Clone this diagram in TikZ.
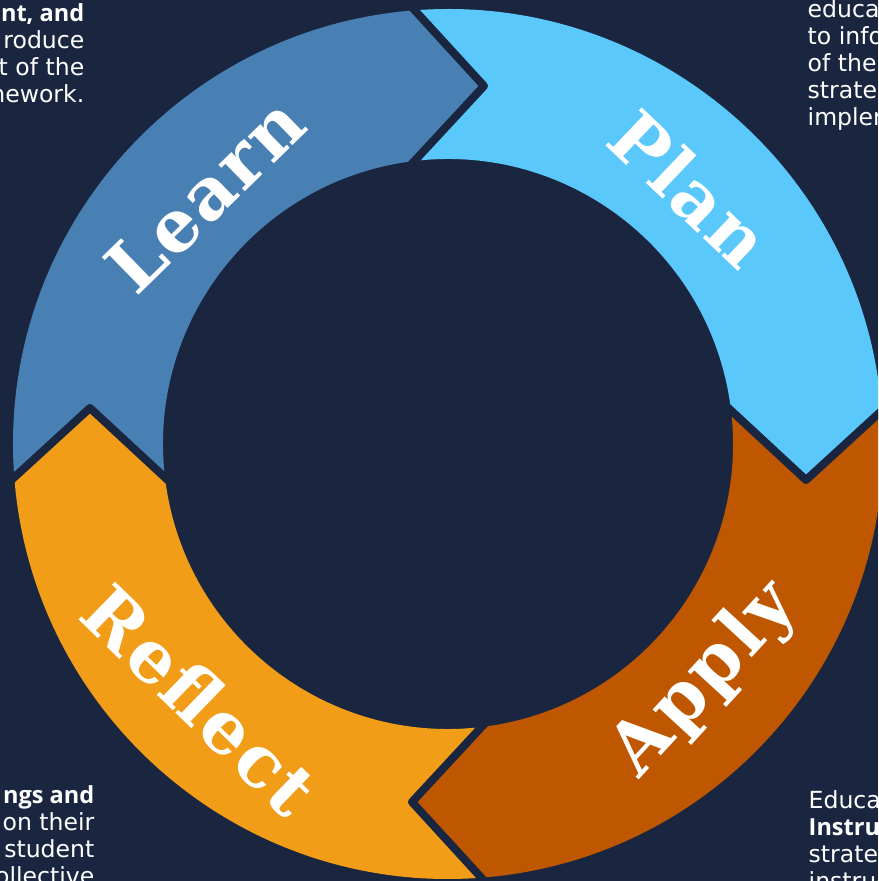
\documentclass[tikz,border=0pt]{standalone}
\usepackage{fontspec}
\usepackage{tikz}
\usetikzlibrary{positioning}
\usepackage{xcolor}
\newfontfamily\notefont{DejaVu Sans}[BoldFont={Open Sans Bold}]
\newfontfamily\stagefont{DejaVu Serif}[LetterSpace=3]
\definecolor{navy}{HTML}{1A2640}
\definecolor{learnblue}{HTML}{4880B4}
\definecolor{planblue}{HTML}{5BC8FC}
\definecolor{applyorange}{HTML}{BE5700}
\definecolor{reflectorange}{HTML}{F29D18}

\begin{document}
\begin{tikzpicture}[every node/.style={text=white}]
\tikzset{stagelabel/.style={font=\stagefont\bfseries\fontsize{20.5}{20.5}\selectfont}}
\tikzset{note/.style={inner sep=0pt, font=\notefont\fontsize{6.7}{7.7}\selectfont}}
\tikzset{divider/.style={draw=navy, line width=0.08cm, line join=round, line cap=round}}
\fill[navy] (-4.48,-4.37) rectangle (4.30,4.44);
\useasboundingbox (-4.48,-4.37) rectangle (4.30,4.44);
\clip (-4.48,-4.37) rectangle (4.30,4.44);
% four ring pieces, each one turned a quarter clockwise
\foreach \col/\turn in {learnblue/0, planblue/-90, applyorange/-180, reflectorange/-270}
  \fill[\col, rotate=\turn] (94.35:4.35) arc[start angle=94.35, end angle=184.35, radius=4.35]
    -- (-3.58,0.36) -- (186.65:2.85) arc[start angle=186.65, end angle=96.65, radius=2.85]
    -- (0.36,3.58) -- cycle;
% dark chevrons between the pieces
\foreach \turn in {0,-90,-180,-270}
  \draw[divider, rotate=\turn] (-0.40,4.41) -- (0.36,3.58) -- (-0.40,2.76);
\node[stagelabel, rotate=44.3] (learn) at (134.3:3.48) {Learn};
\node[stagelabel, rotate=-43.6] (plan) at (46.6:3.52) {Plan};
\node[stagelabel, rotate=47.4] (apply) at (-42.6:3.49) {Apply};
\node[stagelabel, rotate=-44.1] (reflect) at (225.9:3.56) {Reflect};
% side notes, cut by the page edge
\node[note, anchor=north east, align=right] (learnnote) at (-3.63,4.41)
  {\textbf{nt, and}\\roduce\\t of the\\nework.};
\node[note, anchor=north west, align=left] (plannote) at (3.59,4.45)
  {educat\\to infor\\of the\\strateg\\implem};
\node[note, anchor=north west, align=left] (applynote) at (3.60,-3.46)
  {Educat\\\textbf{Instruc}\\strateg\\instruc};
\node[note, anchor=north east, align=right] (reflectnote) at (-3.53,-3.41)
  {\textbf{ngs and}\\on their\\student\\ollective};
\end{tikzpicture}
\end{document}
